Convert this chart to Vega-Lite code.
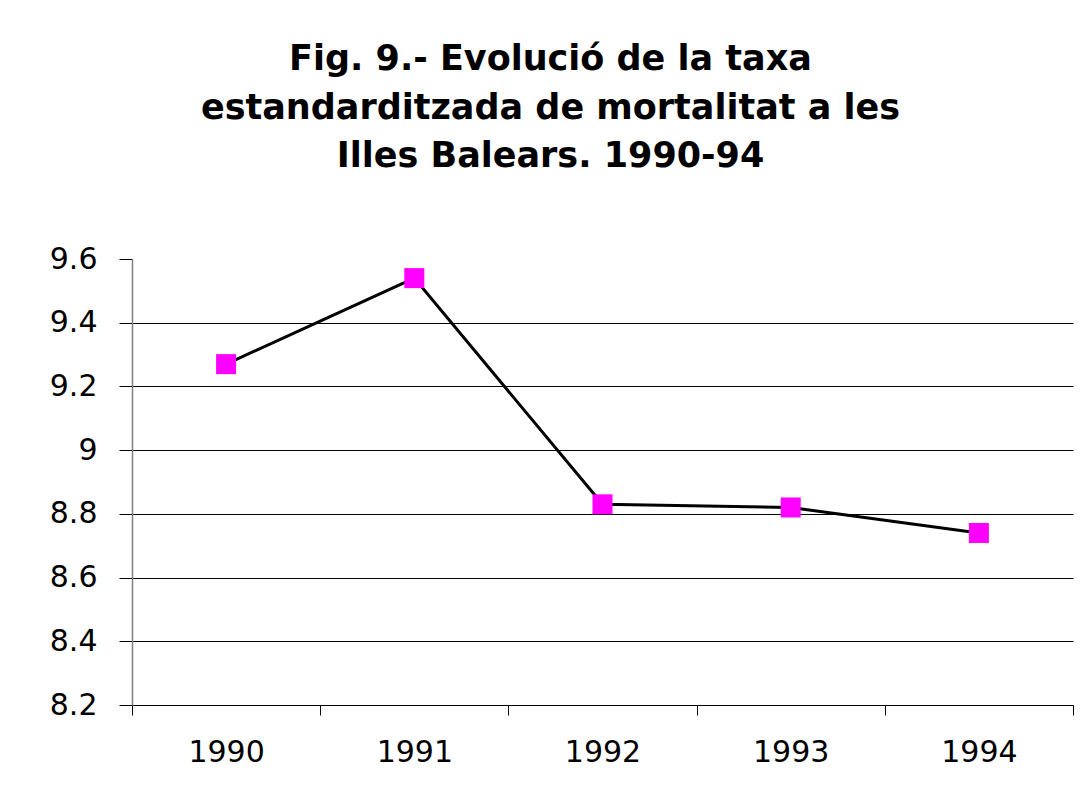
{
  "$schema": "https://vega.github.io/schema/vega-lite/v6.json",
  "autosize": {"type": "none"},
  "width": 941,
  "height": 446,
  "padding": {"left": 132, "top": 259, "right": 18, "bottom": 89},
  "background": "white",
  "title": {
    "text": ["Fig. 9.- Evolució de la taxa", "estandarditzada de mortalitat a les", "Illes Balears. 1990-94"],
    "font": "DejaVu Sans",
    "fontSize": 35,
    "fontWeight": "bold",
    "color": "black",
    "lineHeight": 48.5,
    "anchor": "middle",
    "frame": "group",
    "dx": -52,
    "offset": 70
  },
  "data": {
    "values": [
      {"year": "1990", "rate": 9.27},
      {"year": "1991", "rate": 9.54},
      {"year": "1992", "rate": 8.83},
      {"year": "1993", "rate": 8.82},
      {"year": "1994", "rate": 8.74}
    ]
  },
  "encoding": {
    "x": {
      "field": "year",
      "type": "ordinal",
      "scale": {"paddingInner": 0, "paddingOuter": 0},
      "axis": {
        "title": null,
        "labelAngle": 0,
        "labelFont": "DejaVu Sans",
        "labelFontSize": 30,
        "labelColor": "black",
        "labelPadding": 22,
        "tickBand": "extent",
        "tickSize": 10,
        "tickColor": "black",
        "tickWidth": 1,
        "domainColor": "black",
        "domainWidth": 1,
        "grid": false
      }
    },
    "y": {
      "field": "rate",
      "type": "quantitative",
      "scale": {"domain": [8.2, 9.6], "nice": false, "zero": false},
      "axis": {
        "title": null,
        "values": [8.2, 8.4, 8.6, 8.8, 9.0, 9.2, 9.4, 9.6],
        "format": "~g",
        "labelFont": "DejaVu Sans",
        "labelFontSize": 30,
        "labelColor": "black",
        "labelPadding": 22,
        "tickSize": 13,
        "tickColor": "black",
        "tickWidth": 1,
        "domainColor": "#808080",
        "domainWidth": 1.5,
        "grid": true,
        "gridColor": {"condition": {"test": "datum.value > 9.55", "value": "transparent"}, "value": "black"},
        "gridWidth": 1,
        "gridOpacity": 1
      }
    }
  },
  "layer": [
    {"mark": {"type": "line", "color": "black", "strokeWidth": 3}},
    {"mark": {"type": "point", "shape": "square", "filled": true, "color": "#FF00FF", "opacity": 1, "size": 400}}
  ],
  "config": {"view": {"stroke": null}}
}
